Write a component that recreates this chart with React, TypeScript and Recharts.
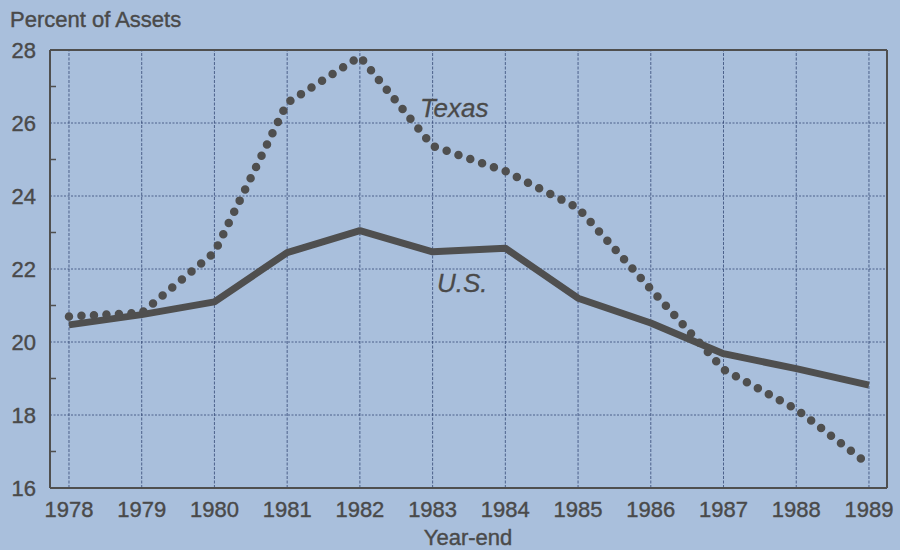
import React from "react";
import { LineChart, Line, XAxis, YAxis, ReferenceLine } from "recharts";

const years = [1978, 1979, 1980, 1981, 1982, 1983, 1984, 1985, 1986, 1987, 1988, 1989];
const texas = [20.7, 20.8, 22.45, 26.55, 27.82, 25.37, 24.68, 23.67, 21.45, 19.25, 18.16, 16.64];
const us = [20.47, 20.75, 21.1, 22.45, 23.05, 22.47, 22.57, 21.2, 20.52, 19.68, 19.27, 18.82];
const yTicks = [16, 17, 18, 19, 20, 21, 22, 23, 24, 25, 26, 27, 28];
const gridY = [18, 20, 22, 24, 26];
const xDomain = [1977.739, 1989.248];
const yDomain = [16, 28];

const data = years.map((y, i) => ({ year: y, texas: texas[i], us: us[i] }));

const W = 900;
const H = 550;
const PLOT_LEFT = 50;
const PLOT_BOTTOM = 488;
const FONT = "'Liberation Sans', Arial, Helvetica, sans-serif";
const TEXT = "#4a4a4a";
const INK = "#4f4f4f";
const GRID = "#2e4270";
const BG = "#a9bfdc";

const YTick = (props: any) => {
  const { y, payload } = props;
  const v = payload.value;
  if (v % 2 === 0) {
    return (
      <text x={PLOT_LEFT - 14} y={y} dy="0.36em" textAnchor="end" fontSize={22} fontFamily={FONT} fill={TEXT} stroke={TEXT} strokeWidth={0.4}>
        {v}
      </text>
    );
  }
  return <line x1={PLOT_LEFT} x2={PLOT_LEFT + 6} y1={y} y2={y} stroke={INK} strokeWidth={1.5} />;
};

const XTick = (props: any) => {
  const { x, payload } = props;
  return (
    <text x={x} y={PLOT_BOTTOM + 29} textAnchor="middle" fontSize={22} fontFamily={FONT} fill={TEXT} stroke={TEXT} strokeWidth={0.4}>
      {payload.value}
    </text>
  );
};

export default function App() {
  return (
    <div style={{ position: "absolute", left: 0, top: 0, width: W, height: H, background: BG, overflow: "hidden" }}>
      <LineChart width={W} height={H} data={data} margin={{ top: 50, right: 13, bottom: 32, left: 0 }}>
        <XAxis
          dataKey="year"
          type="number"
          domain={xDomain}
          ticks={years}
          allowDataOverflow
          height={30}
          axisLine={{ stroke: INK, strokeWidth: 2 }}
          tickLine={false}
          tick={<XTick />}
          interval={0}
        />
        <YAxis
          domain={yDomain}
          ticks={yTicks}
          width={50}
          interval={0}
          axisLine={{ stroke: INK, strokeWidth: 2 }}
          tickLine={false}
          tick={<YTick />}
        />
        {gridY.map((v) => (
          <ReferenceLine key={"gy" + v} y={v} stroke={GRID} strokeOpacity={0.75} strokeWidth={1} strokeDasharray="2 1.5" />
        ))}
        {years.map((v) => (
          <ReferenceLine key={"gx" + v} x={v} stroke={GRID} strokeOpacity={0.75} strokeWidth={1} strokeDasharray="3 1.5" />
        ))}
        <ReferenceLine y={yDomain[1]} stroke={INK} strokeWidth={2} />
        <ReferenceLine x={xDomain[1]} stroke={INK} strokeWidth={2} />
        <Line
          dataKey="us"
          type="linear"
          stroke={INK}
          strokeWidth={7}
          strokeLinejoin="round"
          dot={false}
          isAnimationActive={false}
        />
        <Line
          dataKey="texas"
          type="linear"
          stroke={INK}
          strokeWidth={8.5}
          strokeLinecap="round"
          strokeDasharray="0 12.5"
          dot={false}
          isAnimationActive={false}
        />
      </LineChart>
      <svg width={W} height={H} style={{ position: "absolute", left: 0, top: 0, pointerEvents: "none" }}>
        <text x={10} y={27} fontSize={22} fontFamily={FONT} fill={TEXT} stroke={TEXT} strokeWidth={0.4}>Percent of Assets</text>
        <text x={468} y={545} textAnchor="middle" fontSize={22} fontFamily={FONT} fill={TEXT} stroke={TEXT} strokeWidth={0.4}>Year-end</text>
        <text x={420} y={117} fontSize={26} fontStyle="italic" fontFamily={FONT} fill={TEXT} stroke={TEXT} strokeWidth={0.3}>Texas</text>
        <text x={437} y={292} fontSize={26} fontStyle="italic" fontFamily={FONT} fill={TEXT} stroke={TEXT} strokeWidth={0.3}>U.S.</text>
      </svg>
    </div>
  );
}
